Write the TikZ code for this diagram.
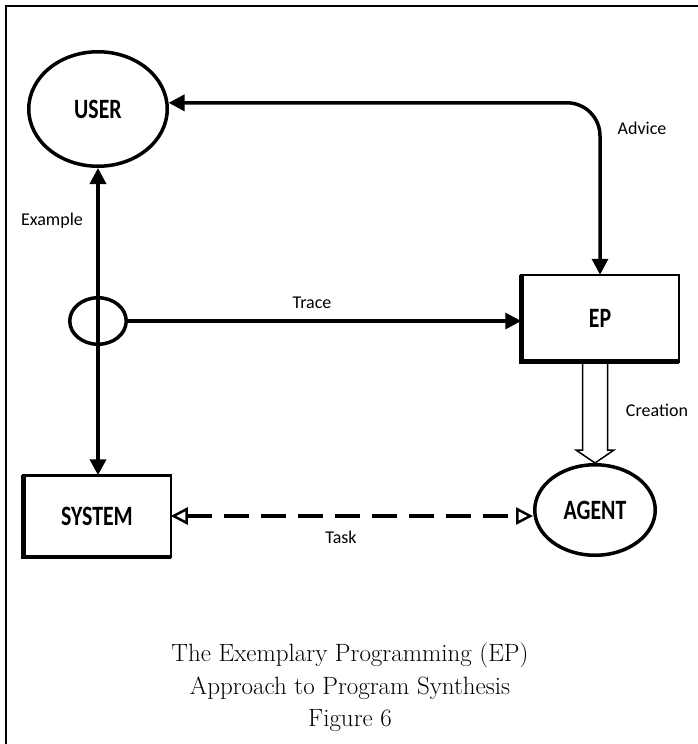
\documentclass[tikz,border=0pt]{standalone}
\usepackage{graphicx}
\usepackage{fontspec}
\newfontfamily\labelfont{Carlito}
\usetikzlibrary{arrows.meta,shapes.geometric,calc}

% condensed bold text inside the shapes
\newcommand\shapetext[1]{\scalebox{0.78}[1]{\labelfont\bfseries\fontsize{28}{28}\selectfont #1}}

\tikzset{
  solidtip/.tip={Triangle[length=16pt,width=16pt]},
  hollowtip/.tip={Triangle[open,length=17pt,width=17pt,line width=2.5pt]}
}

\begin{document}
\begin{tikzpicture}[x=1pt,y=-1pt,
  every node/.style={inner sep=0pt},
  bubble/.style={draw, ellipse, line width=3.5pt},
  block/.style={draw, rectangle, line width=2.5pt, outer sep=0pt},
  flowlabel/.style={font=\labelfont\fontsize{18}{20}\selectfont},
  flow/.style={line width=3.5pt},
  dashflow/.style={line width=3.5pt, dash pattern=on 25pt off 12pt},
  hollowflow/.style={line width=1.5pt, line join=miter}
]
\useasboundingbox (0,0) rectangle (698,744);

% page frame (left and top rules)
\draw[line width=1.2pt] (6,744) -- (6,6) -- (698,6);

% shapes
\node[bubble, minimum width=138.5pt, minimum height=114.5pt] (user) at (98,109) {\shapetext{USER}};
\node[bubble, minimum width=56.5pt, minimum height=46.5pt] (tap) at (98,321) {};
\node[block, minimum width=147.5pt, minimum height=81.5pt] (sys) at (97,516) {\shapetext{SYSTEM}};
\node[block, minimum width=157.5pt, minimum height=86.5pt] (ep) at (600,318) {\shapetext{EP}};
\node[bubble, minimum width=120.5pt, minimum height=90.5pt] (agent) at (595,510) {\shapetext{AGENT}};

% heavier left and bottom edges of the boxes
\draw[line width=4.5pt] (sys.north west) |- (sys.south east);
\draw[line width=4.5pt] (ep.north west) |- (ep.south east);

% connectors
\draw[flow, solidtip-solidtip] (user.south) -- (user.south |- sys.north);
\draw[flow, -solidtip] (tap.east) -- (tap.east -| ep.west);
\draw[flow, solidtip-solidtip, rounded corners=33pt] (user.5) -| (ep.north);
\draw[dashflow, hollowtip-hollowtip] (sys.east) -- (sys.east -| agent.west);

% hollow creation arrow from EP down to AGENT
\coordinate (cbase) at (agent.north |- ep.south);
\draw[hollowflow] ($(cbase)+(-12.5,0)$) |- ($(agent.north)+(-19,-13)$) -- (agent.north)
  -- ($(agent.north)+(19,-13)$) -| ($(cbase)+(12.5,0)$);

% labels
\node[flowlabel] (advice) at (642,128) {Advice};
\node[flowlabel] (example) at (52,221) {Example};
\node[flowlabel] (trace) at (312,303) {Trace};
\node[flowlabel] (creation) at (657,410) {Creation};
\node[flowlabel] (task) at (341,537) {Task};

% caption
\node[align=center, anchor=north, font=\fontsize{25}{32.5}\selectfont] (caption) at (350,643)
  {The Exemplary Programming (EP)\\Approach to Program Synthesis\\Figure 6};
\end{tikzpicture}
\end{document}
